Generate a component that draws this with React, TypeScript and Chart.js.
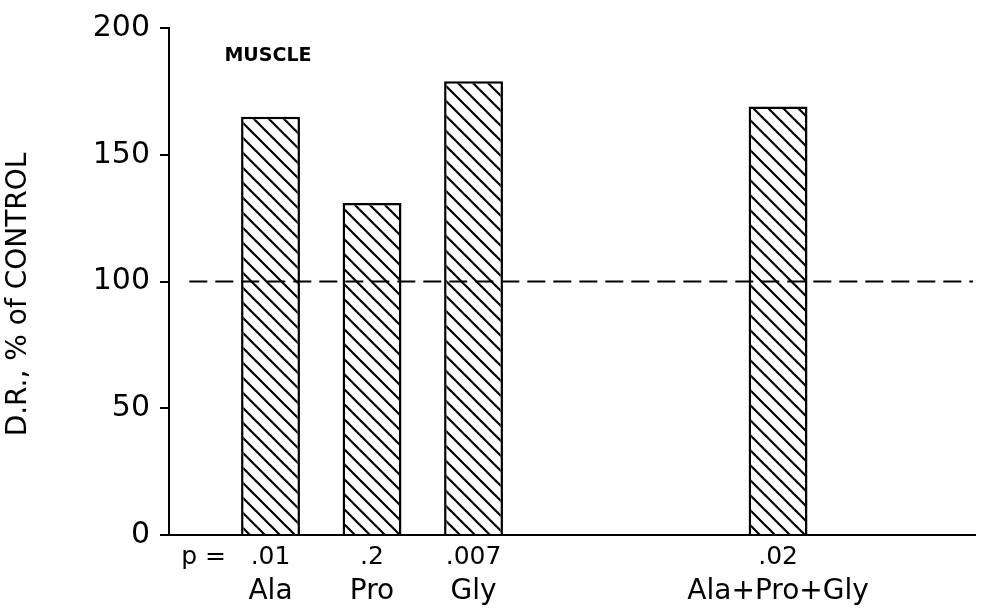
import React, { useEffect, useRef } from 'react';
import { Chart, registerables } from 'chart.js';

Chart.register(...registerables);

// ---- data ----
const CATEGORIES = ['Ala', 'Pro', 'Gly', 'Ala+Pro+Gly'];
const SLOTS = [1, 2, 3, 6]; // category slot of each bar along the x axis
const VALUES = [165, 131, 179, 169];
const P_VALUES = ['.01', '.2', '.007', '.02'];
const P_PREFIX = 'p =';
const P_PREFIX_SLOT = 0.34;
const CONTROL_LEVEL = 100;
const CONTROL_SPAN = [0.2, 7.92];
const Y_TICKS = [0, 50, 100, 150, 200];
const Y_TITLE = 'D.R., % of CONTROL';
const PANEL_LABEL = 'MUSCLE';
const PANEL_LABEL_SLOT = 0.975;
const PANEL_LABEL_VALUE = 189;
const X_MAX = 7.94;

const FONT = '"DejaVu Sans", "Liberation Sans", sans-serif';

function makeHatch(ctx: CanvasRenderingContext2D): CanvasPattern | string {
  const s = 15;
  const c = document.createElement('canvas');
  c.width = s;
  c.height = s;
  const g = c.getContext('2d');
  if (!g) return '#fff';
  g.fillStyle = '#fff';
  g.fillRect(0, 0, s, s);
  g.strokeStyle = '#000';
  g.lineWidth = 2.2;
  for (const k of [-1, 0, 1]) {
    g.beginPath();
    g.moveTo(-s, -s + k * s);
    g.lineTo(2 * s, 2 * s + k * s);
    g.stroke();
  }
  return ctx.createPattern(c, 'repeat') || '#fff';
}

const annotatePlugin = {
  id: 'annotate',
  afterDraw(chart: any) {
    const { ctx, scales } = chart;
    ctx.save();
    ctx.fillStyle = '#000';
    ctx.textAlign = 'center';
    ctx.textBaseline = 'middle';
    ctx.font = `bold 19px ${FONT}`;
    ctx.fillText(
      PANEL_LABEL,
      scales.x.getPixelForValue(PANEL_LABEL_SLOT),
      scales.y.getPixelForValue(PANEL_LABEL_VALUE)
    );
    ctx.translate(19, (scales.y.top + scales.y.bottom) / 2 + 13);
    ctx.rotate(-Math.PI / 2);
    ctx.font = `28px ${FONT}`;
    ctx.fillText(Y_TITLE, 0, 0);
    ctx.restore();
  },
};

export default function App() {
  const ref = useRef<HTMLCanvasElement>(null);

  useEffect(() => {
    const canvas = ref.current;
    if (!canvas) return;
    const ctx = canvas.getContext('2d');
    if (!ctx) return;
    const hatch = makeHatch(ctx);

    const chart = new Chart(ctx, {
      type: 'bar',
      data: {
        datasets: [
          {
            type: 'line',
            label: 'control',
            xAxisID: 'x',
            yAxisID: 'y',
            data: CONTROL_SPAN.map((x) => ({ x, y: CONTROL_LEVEL })),
            borderColor: '#000',
            borderWidth: 2,
            borderDash: [18, 8],
            pointRadius: 0,
            fill: false,
            order: 0,
          } as any,
          {
            type: 'bar',
            label: 'D.R.',
            xAxisID: 'x2',
            yAxisID: 'y',
            data: SLOTS.map((x, i) => ({ x, y: VALUES[i] })),
            backgroundColor: hatch as any,
            borderColor: '#000',
            borderWidth: 2.5,
            grouped: false,
            barPercentage: 0.58,
            categoryPercentage: 1,
            order: 1,
          } as any,
        ],
      },
      options: {
        animation: false,
        responsive: false,
        devicePixelRatio: 1,
        events: [],
        layout: { padding: { left: 0, right: 9, top: 22, bottom: 0 } },
        plugins: {
          legend: { display: false },
          tooltip: { enabled: false },
        },
        scales: {
          x: {
            type: 'linear',
            position: 'bottom',
            min: 0,
            max: X_MAX,
            offset: false,
            weight: 0,
            grid: { display: false, drawTicks: false, offset: false },
            border: { display: true, color: '#000', width: 2 },
            afterBuildTicks: (s: any) => {
              s.ticks = [P_PREFIX_SLOT, ...SLOTS].map((value) => ({ value }));
            },
            afterFit: (s: any) => {
              s.height = 36;
            },
            ticks: {
              autoSkip: false,
              maxRotation: 0,
              minRotation: 0,
              padding: 7,
              color: '#000',
              font: { family: FONT, size: 25 },
              callback: (v: any) =>
                v === P_PREFIX_SLOT ? P_PREFIX : P_VALUES[SLOTS.indexOf(Number(v))] ?? '',
            },
          },
          x2: {
            type: 'linear',
            position: 'bottom',
            axis: 'x',
            min: 0,
            max: X_MAX,
            offset: false,
            weight: 1,
            grid: { display: false, drawTicks: false, offset: false },
            border: { display: false },
            afterBuildTicks: (s: any) => {
              s.ticks = SLOTS.map((value) => ({ value }));
            },
            afterFit: (s: any) => {
              s.height = 39;
            },
            ticks: {
              autoSkip: false,
              maxRotation: 0,
              minRotation: 0,
              padding: 4,
              color: '#000',
              font: { family: FONT, size: 28 },
              callback: (v: any) => CATEGORIES[SLOTS.indexOf(Number(v))] ?? '',
            },
          },
          y: {
            type: 'linear',
            position: 'left',
            min: Y_TICKS[0],
            max: Y_TICKS[Y_TICKS.length - 1],
            afterBuildTicks: (s: any) => {
              s.ticks = Y_TICKS.map((value) => ({ value }));
            },
            afterFit: (s: any) => {
              s.width = 169;
            },
            grid: {
              display: true,
              drawOnChartArea: false,
              drawTicks: true,
              tickLength: 9,
              color: '#000',
              lineWidth: 2,
            },
            border: { display: true, color: '#000', width: 2 },
            ticks: {
              padding: 10,
              color: '#000',
              font: { family: FONT, size: 30 },
            },
          },
        },
      } as any,
      plugins: [annotatePlugin],
    });

    return () => chart.destroy();
  }, []);

  return (
    <div style={{ position: 'absolute', left: 0, top: 0, width: 984, height: 610, background: '#fff' }}>
      <canvas ref={ref} width={984} height={610} style={{ display: 'block', width: 984, height: 610 }} />
    </div>
  );
}
